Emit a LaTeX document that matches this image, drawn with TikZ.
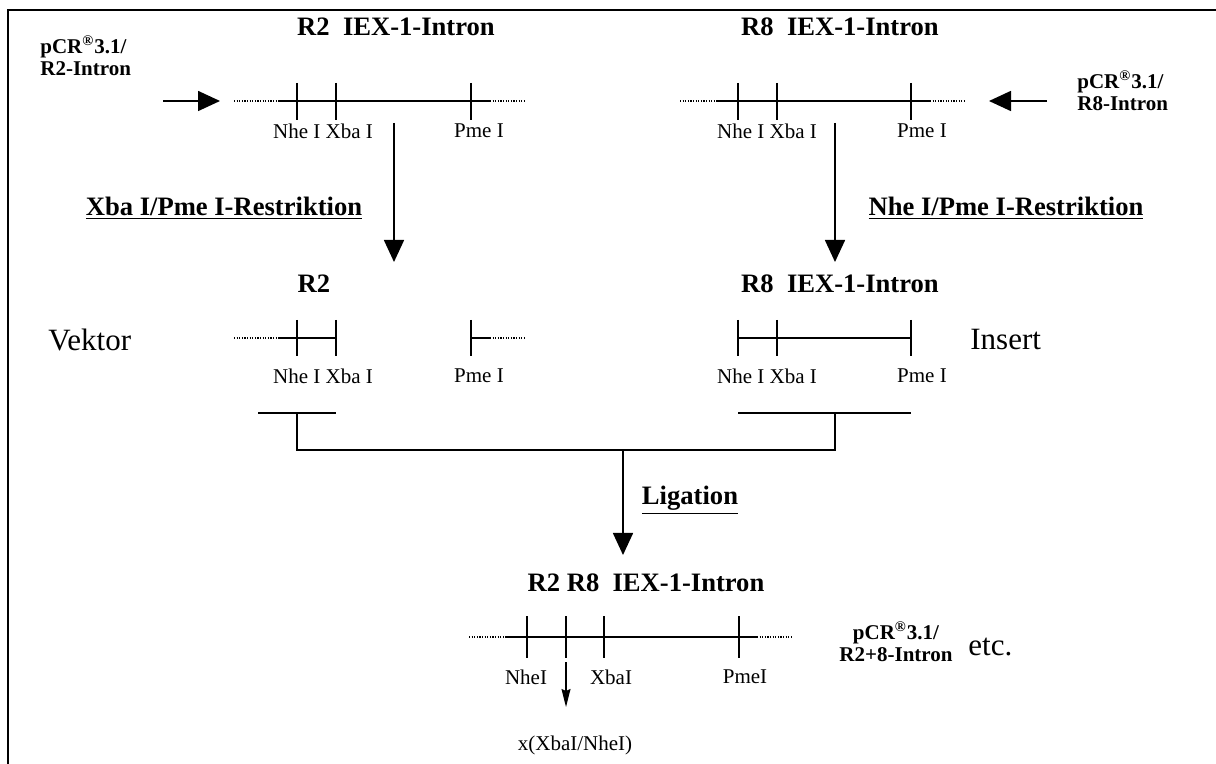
\documentclass[tikz,border=0pt]{standalone}
\usepackage{fontspec}
\setmainfont{Liberation Serif}
\usetikzlibrary{arrows.meta,positioning}
\tikzset{
  headline/.style = {font=\fontsize{13.3}{15}\selectfont\bfseries, inner sep=0pt},
  vecname/.style = {font=\fontsize{10.5}{11}\selectfont\bfseries, inner sep=0pt, align=left},
  sitelabel/.style = {font=\fontsize{10.5}{12}\selectfont, inner sep=0pt},
  bigword/.style = {font=\fontsize{15.5}{17}\selectfont, inner sep=0pt},
  dnaline/.style = {line width=0.8pt},
  flank/.style = {line width=0.6pt, dash pattern=on 0.6pt off 0.7pt},
  cutmark/.style = {line width=0.8pt},
  steparrow/.style = {line width=0.8pt, -{Triangle[length=11pt,width=10pt]}},
  thinarrow/.style = {line width=0.6pt, -{Stealth[length=9pt,width=4.5pt,inset=1pt]}},
}

\begin{document}
\begin{tikzpicture}[x=0.5pt, y=-0.5pt]
  \useasboundingbox (0,0) rectangle (1216,764);
  % frame
  \draw[line width=1pt] (8,764) -- (8,10) -- (1216,10);

  % R2 intron in pCR3.1
  \node[headline] (r2title) at (396,27) {R2\ \ IEX-1-Intron};
  \node[vecname, anchor=west] (r2vec) at (40,56) {pCR\textsuperscript{\textregistered}3.1/\\R2-Intron};
  \draw[flank] (234,101) -- (278,101);
  \draw[dnaline] (278,101) -- (490,101);
  \draw[flank] (490,101) -- (526,101);
  \foreach \x in {297,336,471} \draw[cutmark] (\x,83) -- (\x,120);
  \node[sitelabel] (r2sites) at (323,131) {Nhe I Xba I};
  \node[sitelabel] (r2pme) at (479,131) {Pme I};
  \coordinate (r2in0) at (163,101);
  \coordinate (r2in1) at (220,101);
  \draw[steparrow] (r2in0) -- (r2in1);

  % R8 intron in pCR3.1
  \node[headline] (r8title) at (840,27) {R8\ \ IEX-1-Intron};
  \node[vecname, anchor=west] (r8vec) at (1077,91) {pCR\textsuperscript{\textregistered}3.1/\\R8-Intron};
  \draw[flank] (680,101) -- (718,101);
  \draw[dnaline] (718,101) -- (930,101);
  \draw[flank] (930,101) -- (965,101);
  \foreach \x in {738,777,911} \draw[cutmark] (\x,83) -- (\x,120);
  \node[sitelabel] (r8sites) at (767,131) {Nhe I Xba I};
  \node[sitelabel] (r8pme) at (922,131) {Pme I};
  \coordinate (r8in0) at (1047,101);
  \coordinate (r8in1) at (989,101);
  \draw[steparrow] (r8in0) -- (r8in1);

  % restriction steps
  \coordinate (r2cut0) at (394,123);
  \coordinate (r2cut1) at (394,262);
  \draw[steparrow] (r2cut0) -- (r2cut1);
  \node[headline] (r2enz) at (224,208) {\underline{Xba I/Pme I-Restriktion}};
  \coordinate (r8cut0) at (835,123);
  \coordinate (r8cut1) at (835,262);
  \draw[steparrow] (r8cut0) -- (r8cut1);
  \node[headline] (r8enz) at (1006,208) {\underline{Nhe I/Pme I-Restriktion}};

  % vector fragment
  \node[headline] (vtitle) at (314,284) {R2};
  \node[bigword, anchor=west] (vektor) at (48,340) {Vektor};
  \draw[flank] (234,338) -- (278,338);
  \draw[dnaline] (278,338) -- (336,338);
  \draw[dnaline] (471,338) -- (490,338);
  \draw[flank] (490,338) -- (526,338);
  \foreach \x in {297,336,471} \draw[cutmark] (\x,320) -- (\x,356);
  \node[sitelabel] (vsites) at (323,376) {Nhe I Xba I};
  \node[sitelabel] (vpme) at (479,376) {Pme I};

  % insert fragment
  \node[headline] (ititle) at (840,284) {R8\ \ IEX-1-Intron};
  \node[bigword, anchor=west] (insert) at (970,340) {Insert};
  \draw[dnaline] (738,338) -- (911,338);
  \foreach \x in {738,777,911} \draw[cutmark] (\x,320) -- (\x,356);
  \node[sitelabel] (isites) at (767,376) {Nhe I Xba I};
  \node[sitelabel] (ipme) at (922,376) {Pme I};

  % joining bracket
  \coordinate (vjoin) at (297,413);
  \coordinate (ijoin) at (835,413);
  \draw[dnaline] (258,413) -- (336,413);
  \draw[dnaline] (738,413) -- (911,413);
  \draw[dnaline] (vjoin) -- (297,450) -- (835,450) -- (ijoin);
  \coordinate (lig0) at (623,450);
  \coordinate (lig1) at (623,555);
  \draw[steparrow] (lig0) -- (lig1);
  \node[headline] (ligation) at (690,500) {\underline{Ligation}};

  % ligated product
  \node[headline] (ptitle) at (646,583) {R2 R8\ \ IEX-1-Intron};
  \draw[flank] (469,637) -- (507,637);
  \draw[dnaline] (507,637) -- (757,637);
  \draw[flank] (757,637) -- (793,637);
  \foreach \x in {527,566,604,739} \draw[cutmark] (\x,616) -- (\x,658);
  \node[sitelabel] (pnhe) at (526,677) {NheI};
  \node[sitelabel] (pxba) at (611,677) {XbaI};
  \node[sitelabel] (ppme) at (745,677) {PmeI};
  \coordinate (scar0) at (566,662);
  \coordinate (scar1) at (566,707);
  \draw[thinarrow] (scar0) -- (scar1);
  \node[sitelabel] (scar) at (575,745) {x(XbaI/NheI)};
  \node[vecname, align=center] (pvec) at (896,642) {pCR\textsuperscript{\textregistered}3.1/\\R2+8-Intron};
  \node[bigword, anchor=west] (etc) at (968,647) {etc.};
\end{tikzpicture}
\end{document}
